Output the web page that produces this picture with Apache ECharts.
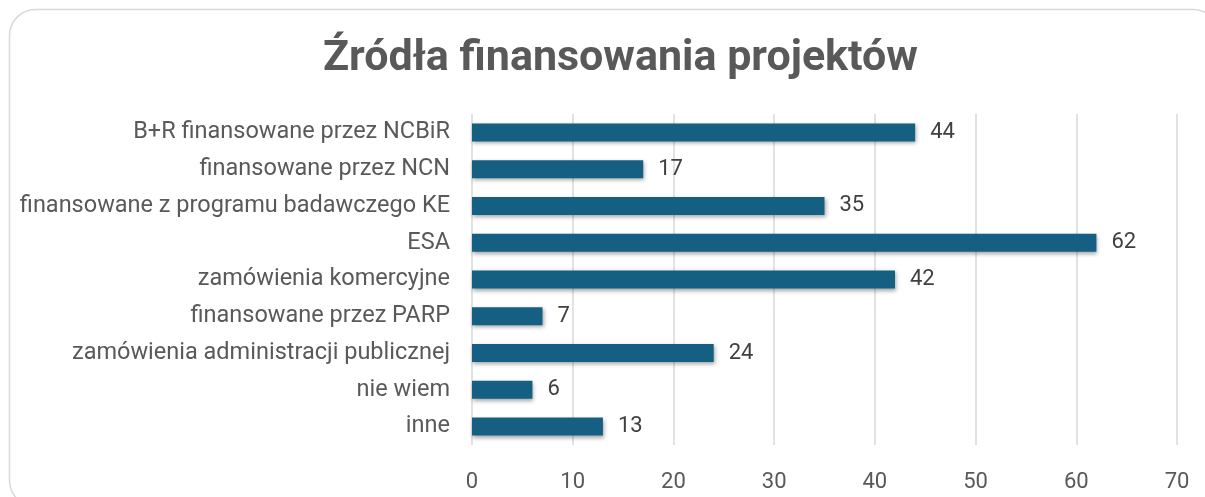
<!DOCTYPE html>
<html><head><meta charset="utf-8">
<script src="https://cdn.jsdelivr.net/npm/echarts@6/dist/echarts.min.js"></script>
<style>html,body{margin:0;padding:0;background:#fff}#c{width:1205px;height:497px}</style>
</head><body><div id="c"></div>
<script>
const categories = ["B+R finansowane przez NCBiR","finansowane przez NCN","finansowane z programu badawczego KE","ESA","zamówienia komercyjne","finansowane przez PARP","zamówienia administracji publicznej","nie wiem","inne"];
const values = [44,17,35,62,42,7,24,6,13];
const xTicks = [0,10,20,30,40,50,60,70];
const chart = echarts.init(document.getElementById('c'));
chart.setOption({
  animation:false,
  graphic:[{type:'rect',shape:{x:9.5,y:9.5,width:1210,height:497,r:26},style:{fill:'none',stroke:'#d9d9d9',lineWidth:1.5}}],
  title:{text:'Źródła finansowania projektów',left:318,top:33,textStyle:{fontFamily:'Roboto',fontWeight:'bold',fontSize:43,color:'#595959'}},
  grid:{left:472,right:28,top:114,bottom:52},
  xAxis:{type:'value',min:xTicks[0],max:xTicks[xTicks.length-1],interval:10,
    axisLine:{show:false},axisTick:{show:false},
    splitLine:{lineStyle:{color:'#d9d9d9',width:1.5}},
    axisLabel:{fontFamily:'Roboto',fontSize:22,color:'#595959',margin:26}},
  yAxis:{type:'category',data:categories,inverse:true,
    axisLine:{show:false},axisTick:{show:false},
    axisLabel:{fontFamily:'Roboto',fontSize:23.5,color:'#595959',margin:22}},
  series:[{type:'bar',data:values,barWidth:'49%',
    itemStyle:{color:'#156082',shadowColor:'rgba(0,0,0,0.35)',shadowBlur:4,shadowOffsetX:1,shadowOffsetY:2},
    label:{show:true,position:'right',distance:15,fontFamily:'Roboto',fontSize:22,color:'#404040'}}]
});
</script></body></html>
